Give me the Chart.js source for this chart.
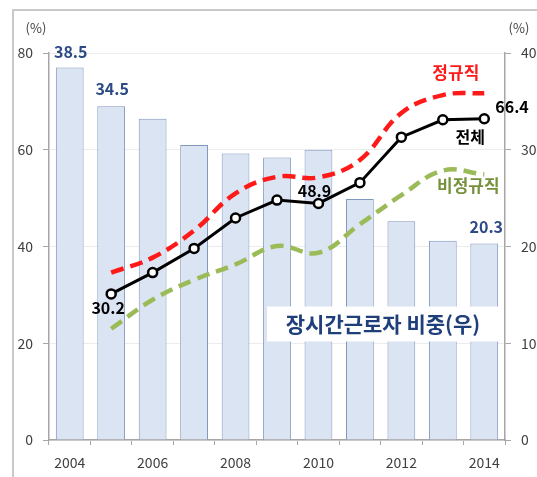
<!DOCTYPE html>
<html>
<head>
<meta charset="utf-8">
<script src="https://cdn.jsdelivr.net/npm/chart.js@4"></script>
<style>
  html, body { margin: 0; padding: 0; background: #fff; }
  #wrap { position: relative; width: 537px; height: 477px; overflow: hidden; }
  #frame { position: absolute; left: 12px; top: 9px; width: 540px; height: 480px;
           border-left: 2px solid #c9c9c9; border-top: 2px solid #c9c9c9; }
  canvas { position: absolute; left: 0; top: 0; }
</style>
</head>
<body>
<div id="wrap">
  <div id="frame"></div>
  <canvas id="chart" width="537" height="477"></canvas>
</div>
<script>
// Long working hours: share of long-hour workers (bars, right axis)
// and per-type ratios (lines, left axis)
var years = ["2004", "2005", "2006", "2007", "2008", "2009", "2010", "2011", "2012", "2013", "2014"];
var longHourShare = [38.5, 34.5, 33.2, 30.5, 29.6, 29.2, 30.0, 24.9, 22.6, 20.6, 20.3];
var totalLine     = [null, 30.2, 34.6, 39.6, 45.9, 49.6, 48.9, 53.2, 62.6, 66.2, 66.4];
var regularLine   = [null, 34.6, 37.7, 43.3, 51.0, 54.4, 54.3, 57.9, 67.6, 71.3, 71.7];
var irregularLine = [null, 23.0, 29.0, 33.1, 36.3, 40.1, 38.7, 44.6, 50.6, 55.7, 54.9];
var leftTicks  = [0, 20, 40, 60, 80];
var rightTicks = [0, 10, 20, 30, 40];

var FONT = "'Noto Sans CJK KR', 'Noto Sans', sans-serif";
var C = {
  bar: "#dbe4f2", barEdge: "#8197be", navy: "#2b4a86",
  red: "#ff1a1a", green: "#9bbb59", greenText: "#76923c",
  ink: "#000000", tick: "#404040", axis: "#a6a6a6", grid: "#ececec"
};

// text labels: [text, datasetKey, index, dx, dy, color, size, align]
var notes = [
  ["38.5", "bar", 0, 1, -16, C.navy, 16, "center"],
  ["34.5", "bar", 1, 1, -17, C.navy, 16, "center"],
  ["20.3", "bar", 10, 2, -17, C.navy, 16, "center"],
  ["30.2", "total", 1, -3, 14, C.ink, 16, "center"],
  ["48.9", "total", 6, -4, -13, C.ink, 16, "center"],
  ["66.4", "total", 10, 11, -12, C.ink, 16, "left"],
  ["정규직", "total", 9, 13, -47, C.red, 17, "center"],
  ["전체", "total", 10, -14, 18, C.ink, 16, "center"],
  ["비정규직", "total", 10, -16, 67, C.greenText, 17, "center"]
];

var notePlugin = {
  id: "notes",
  afterDatasetsDraw: function (chart) {
    var ctx = chart.ctx, x = chart.scales.x, yl = chart.scales.y, yr = chart.scales.y2;
    var ca = chart.chartArea;
    ctx.save();
    ctx.textBaseline = "middle";
    notes.forEach(function (n) {
      var val = n[1] === "bar" ? longHourShare[n[2]] : totalLine[n[2]];
      var sc = n[1] === "bar" ? yr : yl;
      ctx.font = "bold " + n[6] + "px " + FONT;
      ctx.fillStyle = n[5];
      ctx.textAlign = n[7];
      ctx.fillText(n[0], x.getPixelForValue(n[2]) + n[3], sc.getPixelForValue(val) + n[4]);
    });
    // boxed series label for the bars
    var bx = x.getPixelForValue(5) - 10, by = yr.getPixelForValue(13.8);
    ctx.fillStyle = "#ffffff";
    ctx.fillRect(bx, by, 231, 35);
    ctx.font = "bold 21px " + FONT;
    ctx.fillStyle = "#1f3f7a";
    ctx.textAlign = "center";
    ctx.fillText("장시간근로자 비중(우)", bx + 116, by + 18);
    // unit labels
    ctx.font = "13px " + FONT;
    ctx.fillStyle = C.tick;
    ctx.fillText("(%)", ca.left - 13, 28);
    ctx.fillText("(%)", ca.right + 14, 28);
    ctx.restore();
  }
};

new Chart(document.getElementById("chart"), {
  type: "bar",
  data: {
    labels: years,
    datasets: [
      { type: "line", label: "정규직", data: regularLine, yAxisID: "y", order: 1,
        borderColor: C.red, borderWidth: 4.5, borderDash: [13, 7], tension: 0.4,
        pointRadius: 0, fill: false },
      { type: "line", label: "비정규직", data: irregularLine, yAxisID: "y", order: 1,
        borderColor: C.green, borderWidth: 4.5, borderDash: [13, 7], tension: 0.4,
        pointRadius: 0, fill: false },
      { type: "line", label: "전체", data: totalLine, yAxisID: "y", order: 0,
        borderColor: C.ink, borderWidth: 3, tension: 0,
        pointRadius: 4.5, pointBorderWidth: 2.5, pointBackgroundColor: "#fff",
        pointBorderColor: C.ink, fill: false },
      { label: "장시간근로자 비중(우)", data: longHourShare, yAxisID: "y2", order: 2,
        backgroundColor: C.bar, borderColor: C.barEdge, borderWidth: 1,
        categoryPercentage: 1, barPercentage: 0.67 }
    ]
  },
  options: {
    responsive: false,
    animation: false,
    layout: { padding: { left: 0, right: 0, top: 53, bottom: 0 } },
    plugins: { legend: { display: false }, tooltip: { enabled: false } },
    scales: {
      x: {
        offset: true,
        grid: { offset: true, drawOnChartArea: false, tickLength: 5, tickColor: C.axis },
        border: { color: C.axis, width: 1.5 },
        ticks: {
          autoSkip: false, maxRotation: 0, padding: 9, color: C.tick,
          font: { family: FONT, size: 14 },
          callback: function (v, i) { return i % 2 === 0 ? years[i] : ""; }
        },
        afterFit: function (s) { s.height = 37; }
      },
      y: {
        position: "left", min: 0, max: 80,
        afterBuildTicks: function (s) { s.ticks = leftTicks.map(function (v) { return { value: v }; }); },
        grid: { color: C.grid, tickLength: 6, tickColor: C.axis },
        border: { color: C.axis, width: 1.5 },
        ticks: { padding: 10, color: C.tick, font: { family: FONT, size: 14 } },
        afterFit: function (s) { s.width = 49; }
      },
      y2: {
        position: "right", min: 0, max: 40,
        afterBuildTicks: function (s) { s.ticks = rightTicks.map(function (v) { return { value: v }; }); },
        grid: { drawOnChartArea: false, tickLength: 6, tickColor: C.axis },
        border: { color: C.axis, width: 1.5 },
        ticks: { padding: 10, color: C.tick, font: { family: FONT, size: 14 } },
        afterFit: function (s) { s.width = 32; }
      }
    }
  },
  plugins: [notePlugin]
});
</script>
</body>
</html>
